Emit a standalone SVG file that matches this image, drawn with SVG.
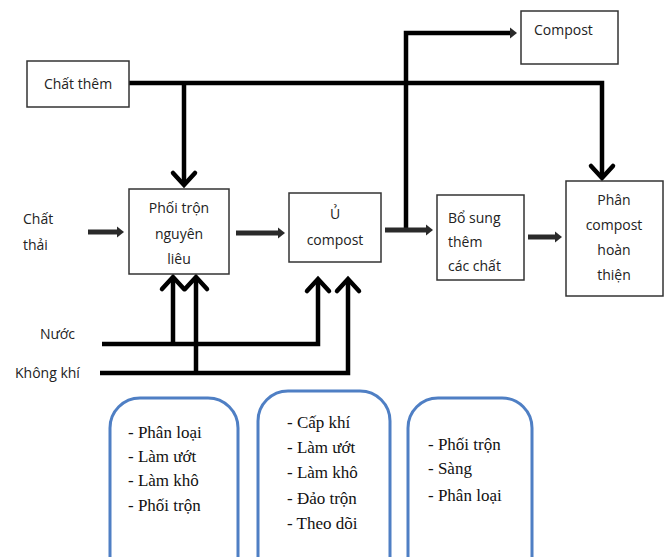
<svg xmlns="http://www.w3.org/2000/svg" width="670" height="557" viewBox="0 0 670 557">
<defs>
<style>
.box{fill:#fff;stroke:#333;stroke-width:1.5}
.rbox{fill:#fff;stroke:#4f7fc4;stroke-width:3}
.t{font-family:"Open Sans","Liberation Sans",sans-serif;font-size:14px;fill:#222}
.s{font-family:"Liberation Serif",serif;font-size:17px;fill:#111}
.thick{fill:none;stroke:#000;stroke-width:4.5;stroke-linejoin:miter}
.thin{fill:none;stroke:#2a2a2a;stroke-width:5}
</style>
<marker id="chev" markerUnits="userSpaceOnUse" viewBox="-14 -14 16 28" refX="0" refY="0" markerWidth="16" markerHeight="28" orient="auto" overflow="visible">
<polyline points="-12,-11 0,0 -12,11" fill="none" stroke="#000" stroke-width="4.5" stroke-linecap="round"/>
</marker>
<marker id="tri" markerUnits="userSpaceOnUse" viewBox="0 -6 8 12" refX="1" refY="0" markerWidth="8" markerHeight="12" orient="auto" overflow="visible">
<path d="M0,-5.5 L7,0 L0,5.5 Z" fill="#2a2a2a"/>
</marker>
</defs>
<rect width="670" height="557" fill="#fff"/>
<g id="connectors">
<path class="thick" d="M129,83 H602 V178" marker-end="url(#chev)"/>
<path class="thick" d="M184,83 V185" marker-end="url(#chev)"/>
<path class="thick" d="M102,344 H318 V279" marker-end="url(#chev)"/>
<path class="thick" d="M100,373 H348 V279" marker-end="url(#chev)"/>
<path class="thick" d="M173,344 V277" marker-end="url(#chev)"/>
<path class="thick" d="M196,373 V277" marker-end="url(#chev)"/>
<path class="thick" d="M406,229 V33 H511" marker-end="url(#tri)"/>
<line class="thin" x1="88" y1="232" x2="118" y2="232" marker-end="url(#tri)"/>
<line class="thin" x1="236" y1="233" x2="279" y2="233" marker-end="url(#tri)"/>
<line class="thin" x1="385" y1="230" x2="427" y2="230" marker-end="url(#tri)"/>
<line class="thin" x1="528" y1="237" x2="556" y2="237" marker-end="url(#tri)"/>
</g>
<g id="chat-them">
<rect class="box" x="27" y="61" width="102" height="46"/>
<text class="t" x="78" y="89" text-anchor="middle">Chất thêm</text>
</g>
<g id="chat-thai">
<text class="t" x="23" y="224">Chất</text>
<text class="t" x="23" y="250">thải</text>
</g>
<g id="phoi-tron">
<rect class="box" x="129" y="189" width="100" height="85"/>
<text class="t" x="179" y="213" text-anchor="middle">Phối trộn</text>
<text class="t" x="179" y="239" text-anchor="middle">nguyên</text>
<text class="t" x="179" y="264" text-anchor="middle">liêu</text>
</g>
<g id="u-compost">
<rect class="box" x="289" y="193" width="92" height="69"/>
<text class="t" x="335" y="219" text-anchor="middle">Ủ</text>
<text class="t" x="335" y="245" text-anchor="middle">compost</text>
</g>
<g id="compost">
<rect class="box" x="521" y="11" width="97" height="53"/>
<text class="t" x="534" y="35">Compost</text>
</g>
<g id="bo-sung">
<rect class="box" x="437" y="195" width="87" height="85"/>
<text class="t" x="448" y="223">Bổ sung</text>
<text class="t" x="448" y="247">thêm</text>
<text class="t" x="448" y="271">các chất</text>
</g>
<g id="phan-compost">
<rect class="box" x="566" y="181" width="97" height="115"/>
<text class="t" x="614" y="205" text-anchor="middle">Phân</text>
<text class="t" x="614" y="230" text-anchor="middle">compost</text>
<text class="t" x="614" y="255" text-anchor="middle">hoàn</text>
<text class="t" x="614" y="280" text-anchor="middle">thiện</text>
</g>
<g id="nuoc"><text class="t" x="40" y="339">Nước</text></g>
<g id="khong-khi"><text class="t" x="15" y="378">Không khí</text></g>
<g id="list1">
<rect class="rbox" x="110" y="398" width="128" height="190" rx="30"/>
<text class="s" x="128" y="438">- Phân loại</text>
<text class="s" x="128" y="462">- Làm ướt</text>
<text class="s" x="128" y="486">- Làm khô</text>
<text class="s" x="128" y="511">- Phối trộn</text>
</g>
<g id="list2">
<rect class="rbox" x="258" y="391" width="132" height="200" rx="30"/>
<text class="s" x="287" y="428">- Cấp khí</text>
<text class="s" x="287" y="453">- Làm ướt</text>
<text class="s" x="287" y="478">- Làm khô</text>
<text class="s" x="287" y="504">- Đảo trộn</text>
<text class="s" x="287" y="529">- Theo dõi</text>
</g>
<g id="list3">
<rect class="rbox" x="408" y="398" width="124" height="190" rx="30"/>
<text class="s" x="428" y="450">- Phối trộn</text>
<text class="s" x="428" y="474">- Sàng</text>
<text class="s" x="428" y="501">- Phân loại</text>
</g>
</svg>
